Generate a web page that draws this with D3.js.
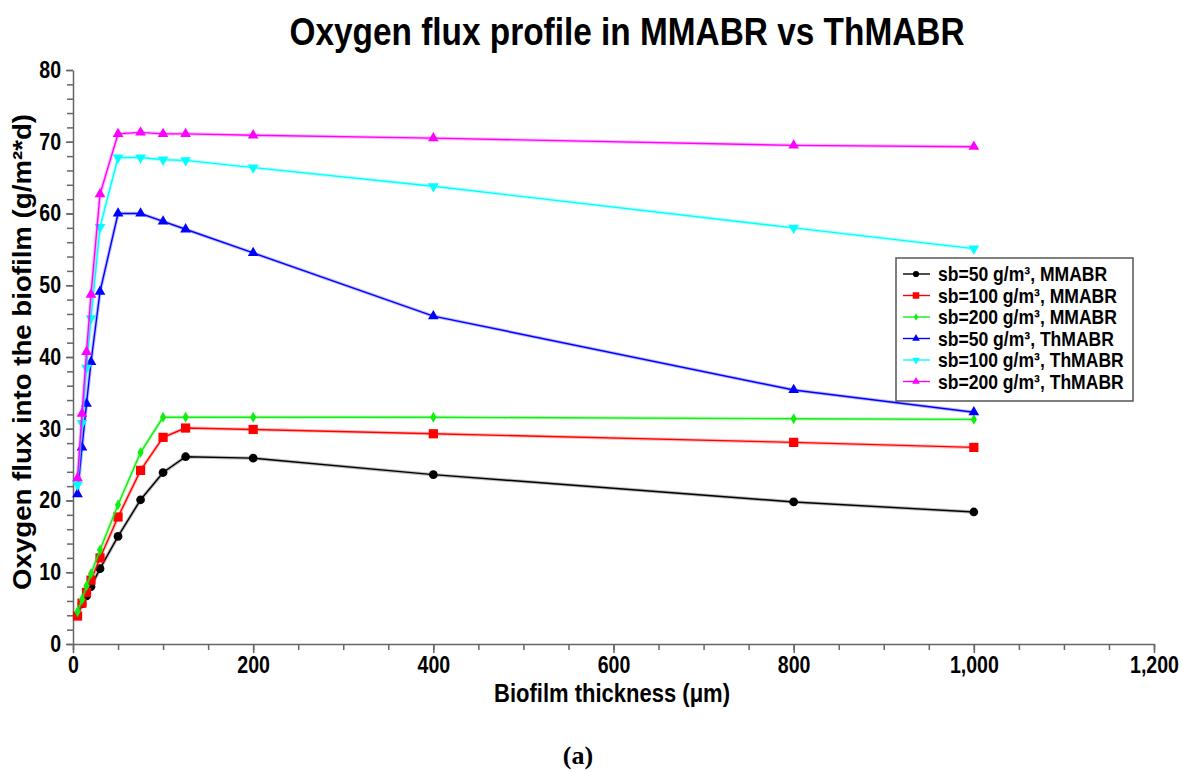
<!DOCTYPE html>
<html lang="en">
  <head>
    <meta charset="utf-8" />
    <title>Oxygen flux profile in MMABR vs ThMABR</title>
    <script src="https://d3js.org/d3.v7.min.js"></script>
    <style>
      body {
        margin: 0;
        background: #fff;
      }
      text {
        font-family: "Liberation Sans", Arial, sans-serif;
        font-weight: bold;
        fill: #000;
      }
      .axis path,
      .axis line {
        stroke: #666;
        stroke-width: 1.5;
      }
      .axis text {
        font-size: 23px;
      }
    </style>
  </head>

  <body>
    <svg id="chart"></svg>

    <script>
      // Biofilm thickness (um) sampled by all six runs
      const thickness = [5, 10, 15, 20, 30, 50, 75, 100, 125, 200, 400, 800, 1000];

      const mm50 = [4.0, 5.6, 6.7, 8.0, 10.5, 15.0, 20.1, 23.9, 26.1, 25.9, 23.6, 19.8, 18.4];
      const mm100 = [3.9, 5.7, 7.2, 8.9, 12.0, 17.7, 24.2, 28.8, 30.1, 29.9, 29.3, 28.1, 27.4];
      const mm200 = [4.5, 6.2, 8.1, 9.8, 13.1, 19.4, 26.7, 31.6, 31.6, 31.6, 31.6, 31.4, 31.3];
      const th50 = [20.9, 27.4, 33.5, 39.3, 49.1, 60.0, 60.0, 58.9, 57.8, 54.5, 45.7, 35.4, 32.3];
      const th100 = [22.2, 30.8, 38.5, 45.4, 58.1, 67.8, 67.8, 67.5, 67.4, 66.4, 63.8, 58.0, 55.1];
      const th200 = [23.1, 32.1, 40.7, 48.7, 62.7, 71.1, 71.3, 71.1, 71.1, 70.9, 70.5, 69.5, 69.3];

      const seriesNames = [
        "sb=50 g/m³, MMABR",
        "sb=100 g/m³, MMABR",
        "sb=200 g/m³, MMABR",
        "sb=50 g/m³, ThMABR",
        "sb=100 g/m³, ThMABR",
        "sb=200 g/m³, ThMABR",
      ];
      const seriesValues = [mm50, mm100, mm200, th50, th100, th200];
      const seriesColors = ["#000000", "#ff0000", "#11ee11", "#0000ff", "#00ffff", "#ff00ff"];

      const xTicks = [0, 200, 400, 600, 800, 1000, 1200];
      const yTicks = [0, 10, 20, 30, 40, 50, 60, 70, 80];

      // marker per series: [symbol, area, rotation]
      const markers = [
        [d3.symbolCircle, 60, 0],
        [d3.symbolSquare, 85, 0],
        [d3.symbolDiamond, 34, 0],
        [d3.symbolTriangle, 50, 0],
        [d3.symbolTriangle, 50, 180],
        [d3.symbolTriangle, 50, 0],
      ];

      const W = 1188;
      const H = 772;
      const margin = { top: 70, right: 34, bottom: 128, left: 73 };
      const width = W - margin.left - margin.right;
      const height = H - margin.top - margin.bottom;
      const squeeze = 0.85; // the tick font is a narrow Helvetica

      const svg = d3.select("#chart").attr("width", W).attr("height", H);
      const g = svg.append("g").attr("transform", `translate(${margin.left},${margin.top})`);

      const xscale = d3.scaleLinear().domain([0, 1200]).range([0, width]);
      const yscale = d3.scaleLinear().domain([0, 80]).range([height, 0]);

      // minor ticks
      g.append("g")
        .attr("class", "axis")
        .attr("transform", `translate(0,${height})`)
        .call(d3.axisBottom(xscale).tickValues(d3.range(0, 1201, 50)).tickSize(6).tickFormat(""))
        .call((s) => s.select(".domain").remove());
      g.append("g")
        .attr("class", "axis")
        .call(d3.axisLeft(yscale).tickValues(d3.range(0, 81, 2)).tickSize(6).tickFormat(""))
        .call((s) => s.select(".domain").remove());

      // labelled axes
      g.append("g")
        .attr("class", "axis")
        .attr("transform", `translate(0,${height})`)
        .call(d3.axisBottom(xscale).tickValues(xTicks).tickSize(9).tickSizeOuter(0).tickPadding(4).tickFormat(d3.format(",")))
        .call((s) => s.selectAll("text").attr("transform", `scale(${squeeze},1)`));

      g.append("g")
        .attr("class", "axis")
        .call(d3.axisLeft(yscale).tickValues(yTicks).tickSize(7).tickSizeOuter(0))
        .call((s) =>
          s.selectAll("text")
            .attr("x", -12 / squeeze)
            .attr("transform", `scale(${squeeze},1)`)
        );

      // series
      const line = d3
        .line()
        .x((d) => xscale(d[0]))
        .y((d) => yscale(d[1]));

      seriesValues.forEach((vals, i) => {
        const pts = thickness.map((t, j) => [t, vals[j]]);
        const sg = g.append("g");
        sg.append("path")
          .datum(pts)
          .attr("d", line)
          .attr("fill", "none")
          .attr("stroke", seriesColors[i])
          .attr("stroke-opacity", 0.25)
          .attr("stroke-width", 3.5);
        sg.append("path")
          .datum(pts)
          .attr("d", line)
          .attr("fill", "none")
          .attr("stroke", seriesColors[i])
          .attr("stroke-width", 1.4);
        const [type, size, rot] = markers[i];
        sg.selectAll("path.mark")
          .data(pts)
          .join("path")
          .attr("class", "mark")
          .attr("d", d3.symbol().type(type).size(size))
          .attr("transform", (d) => `translate(${xscale(d[0])},${yscale(d[1])}) rotate(${rot})`)
          .attr("fill", seriesColors[i]);
      });

      // legend
      const lg = svg.append("g").attr("transform", "translate(896,258)");
      lg.append("rect")
        .attr("width", 237)
        .attr("height", 143)
        .attr("fill", "#fff")
        .attr("stroke", "#555")
        .attr("stroke-width", 1.5);
      seriesNames.forEach((name, i) => {
        const y = 16 + i * 21.5;
        const row = lg.append("g").attr("transform", `translate(0,${y})`);
        row.append("line").attr("x1", 7).attr("x2", 34).attr("stroke", seriesColors[i]).attr("stroke-width", 1.4);
        const [type, size, rot] = markers[i];
        row.append("path")
          .attr("d", d3.symbol().type(type).size(size * 0.5))
          .attr("transform", `translate(20,0) rotate(${rot})`)
          .attr("fill", seriesColors[i]);
        row.append("text")
          .attr("x", 42 / 0.9)
          .attr("dy", "0.36em")
          .attr("transform", "scale(0.9,1)")
          .style("font-size", "19.5px")
          .text(name);
      });

      // titles
      svg.append("text")
        .attr("x", 627)
        .attr("y", 45)
        .attr("text-anchor", "middle")
        .attr("textLength", 675)
        .attr("lengthAdjust", "spacingAndGlyphs")
        .style("font-size", "39px")
        .text("Oxygen flux profile in MMABR vs ThMABR");

      svg.append("text")
        .attr("transform", "translate(31,352) rotate(-90)")
        .attr("text-anchor", "middle")
        .attr("textLength", 476)
        .attr("lengthAdjust", "spacingAndGlyphs")
        .style("font-size", "26px")
        .text("Oxygen flux into the biofilm (g/m²*d)");

      svg.append("text")
        .attr("x", 612)
        .attr("y", 702)
        .attr("text-anchor", "middle")
        .attr("textLength", 236)
        .attr("lengthAdjust", "spacingAndGlyphs")
        .style("font-size", "25px")
        .text("Biofilm thickness (μm)");

      svg.append("text")
        .attr("x", 578)
        .attr("y", 764)
        .attr("text-anchor", "middle")
        .style("font-family", "'Liberation Serif', 'Times New Roman', serif")
        .style("font-size", "26px")
        .text("(a)");
    </script>
  </body>
</html>
